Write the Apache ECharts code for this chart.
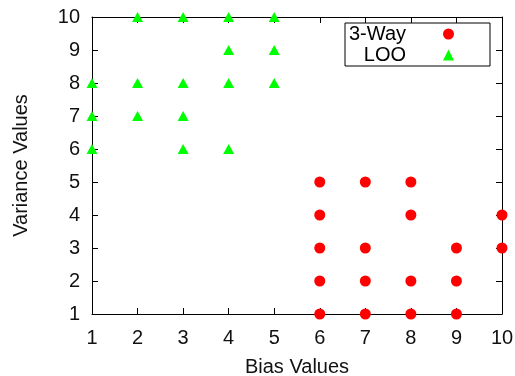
<!DOCTYPE html>
<html>
<head>
<meta charset="utf-8">
<script src="https://cdn.jsdelivr.net/npm/echarts@6/dist/echarts.min.js"></script>
<style>
html,body{margin:0;padding:0;background:#fff;}
#chart{width:515px;height:376px;}
</style>
</head>
<body>
<div id="chart"></div>
<script>
const xTicks = [1,2,3,4,5,6,7,8,9,10];
const yTicks = [1,2,3,4,5,6,7,8,9,10];
const threeWay = [
  [6,5],[7,5],[8,5],
  [6,4],[8,4],[10,4],
  [6,3],[7,3],[9,3],[10,3],
  [6,2],[7,2],[8,2],[9,2],
  [6,1],[7,1],[8,1],[9,1]
];
const loo = [
  [2,10],[3,10],[4,10],[5,10],
  [4,9],[5,9],
  [1,8],[2,8],[3,8],[4,8],[5,8],
  [1,7],[2,7],[3,7],
  [1,6],[3,6],[4,6]
];

const FONT = 'Liberation Sans, Arial, sans-serif';
const FS = 20;
const chart = echarts.init(document.getElementById('chart'), null, {renderer:'canvas'});
const lineStyle = {color:'#000', width:1};
const axisCommon = {
  type:'value', min:1, max:10, interval:1,
  axisLine:{show:true, onZero:false, lineStyle},
  axisTick:{show:true, inside:true, length:6, lineStyle},
  splitLine:{show:false}
};
chart.setOption({
  animation:false,
  backgroundColor:'#fff',
  textStyle:{fontFamily:FONT},
  grid:{left:92, right:13, top:17, bottom:62, outerBoundsMode:'none', containLabel:false},
  legend:{
    orient:'vertical', left:345, top:23,
    align:'right',
    padding:[1,36,1,1],
    itemGap:1,
    itemWidth:11, itemHeight:11,
    borderColor:'#000', borderWidth:1,
    data:['3-Way','LOO'],
    formatter:function(n){return '{a|'+n+'}{b|}';},
    textStyle:{
      fontFamily:FONT, fontSize:FS, color:'#000',
      rich:{
        a:{width:60, align:'right', fontSize:FS, lineHeight:19, fontFamily:FONT, color:'#000'},
        b:{width:32, fontSize:FS, lineHeight:19}
      }
    }
  },
  xAxis:[
    Object.assign({}, axisCommon, {
      position:'bottom',
      name:'Bias Values', nameLocation:'middle', nameGap:43,
      nameTextStyle:{fontSize:FS, color:'#111', fontFamily:FONT},
      axisLabel:{fontSize:FS, color:'#111', margin:14, fontFamily:FONT,
        formatter:function(v){return xTicks.indexOf(v)>=0 ? String(v) : '';}}
    }),
    Object.assign({}, axisCommon, {position:'top', axisLabel:{show:false}})
  ],
  yAxis:[
    Object.assign({}, axisCommon, {
      position:'left',
      name:'Variance Values', nameLocation:'middle', nameGap:61, nameRotate:90,
      nameTextStyle:{fontSize:FS, color:'#111', fontFamily:FONT},
      axisLabel:{fontSize:FS, color:'#111', margin:12, fontFamily:FONT,
        formatter:function(v){return yTicks.indexOf(v)>=0 ? String(v) : '';}}
    }),
    Object.assign({}, axisCommon, {position:'right', axisLabel:{show:false}})
  ],
  series:[
    {name:'3-Way', type:'scatter', data:threeWay, symbol:'circle', symbolSize:11,
      clip:false, itemStyle:{color:'#ff0000', opacity:1}},
    {name:'LOO', type:'scatter', data:loo, symbol:'triangle', symbolSize:[11,10],
      clip:false, itemStyle:{color:'#00ff00', opacity:1}}
  ]
});
</script>
</body>
</html>
